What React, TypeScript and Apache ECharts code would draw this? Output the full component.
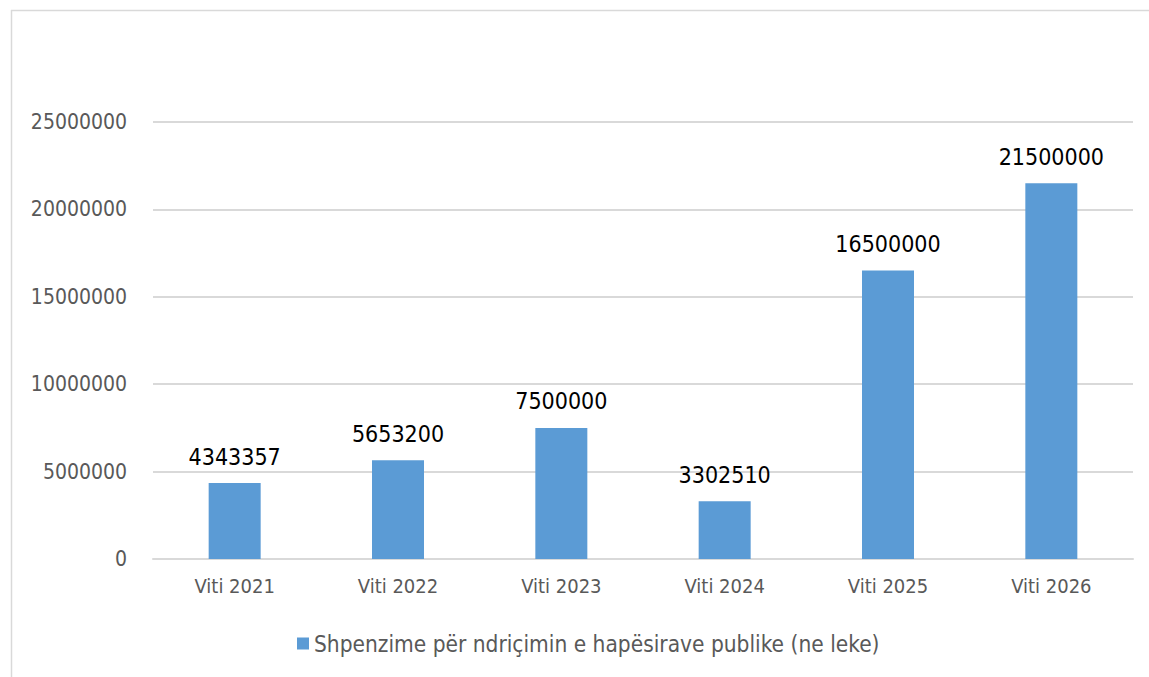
import React, { useEffect, useRef } from "react";
import * as echarts from "echarts";

const categories = ["Viti 2021", "Viti 2022", "Viti 2023", "Viti 2024", "Viti 2025", "Viti 2026"];
const values = [4343357, 5653200, 7500000, 3302510, 16500000, 21500000];
const seriesName = "Shpenzime për ndriçimin e hapësirave publike (ne leke)";
const yTicks = [0, 5000000, 10000000, 15000000, 20000000, 25000000];

const FONT = "'DejaVu Sans Condensed', 'Liberation Sans', sans-serif";

export default function App() {
  const ref = useRef<HTMLDivElement>(null);
  useEffect(() => {
    document.body.style.margin = "0";
    const chart = echarts.init(ref.current!, null, { renderer: "svg" });
    chart.setOption({
      animation: false,
      backgroundColor: "#ffffff",
      textStyle: { fontFamily: FONT },
      graphic: [
        { type: "line", shape: { x1: 11, y1: 10.5, x2: 1149, y2: 10.5 }, style: { stroke: "#D9D9D9", lineWidth: 1.5 } },
        { type: "line", shape: { x1: 11.5, y1: 10, x2: 11.5, y2: 677 }, style: { stroke: "#D9D9D9", lineWidth: 1.5 } },
      ],
      grid: { left: 153, right: 16, top: 122, bottom: 118, containLabel: false },
      legend: {
        data: [seriesName],
        left: 297,
        top: 632,
        padding: 0,
        icon: "rect",
        itemWidth: 12,
        itemHeight: 12,
        itemGap: 5,
        textStyle: { fontFamily: FONT, fontSize: 22.5, color: "#595959" },
      },
      xAxis: {
        type: "category",
        data: categories,
        axisLine: { show: true, lineStyle: { color: "#D9D9D9", width: 2 } },
        axisTick: { show: false },
        axisLabel: { fontFamily: FONT, fontSize: 20, color: "#595959", margin: 17 },
      },
      yAxis: {
        type: "value",
        min: yTicks[0],
        max: yTicks[yTicks.length - 1],
        interval: 5000000,
        axisLine: { show: false },
        axisTick: { show: false },
        splitLine: { lineStyle: { color: "#D9D9D9", width: 2 } },
        axisLabel: {
          fontFamily: FONT,
          fontSize: 21,
          color: "#595959",
          margin: 26,
          formatter: (v: number) => String(v),
        },
      },
      series: [
        {
          name: seriesName,
          type: "bar",
          data: values,
          barWidth: 52,
          itemStyle: { color: "#5B9BD5" },
          label: {
            show: true,
            position: "top",
            distance: 15,
            fontFamily: FONT,
            fontSize: 23,
            color: "#000000",
          },
        },
      ],
    });
    return () => chart.dispose();
  }, []);
  return <div ref={ref} style={{ width: 1149, height: 677 }} />;
}
